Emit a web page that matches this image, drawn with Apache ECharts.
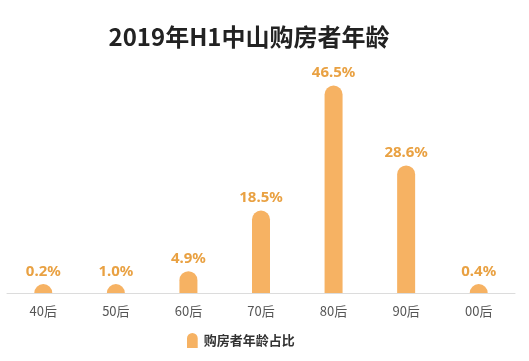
<!DOCTYPE html>
<html><head><meta charset="utf-8">
<script src="https://cdn.jsdelivr.net/npm/echarts@6/dist/echarts.min.js"></script>
<style>html,body{margin:0;padding:0;background:#fff}#c{width:529px;height:361px}</style>
</head><body><div id="c"></div>
<script>
const categories = ['40后','50后','60后','70后','80后','90后','00后'];
const values = [0.2, 1.0, 4.9, 18.5, 46.5, 28.6, 0.4];
const seriesName = '购房者年龄占比';
const titleText = '2019年H1中山购房者年龄';
const chart = echarts.init(document.getElementById('c'));
chart.setOption({
  backgroundColor: '#fff',
  title: {text: titleText, left: 244, top: 20, textAlign: 'center',
    textStyle: {fontSize: 24, fontWeight: 'bold', color: '#222', fontFamily: 'Noto Sans CJK SC'}},
  legend: {data: [seriesName], left: 182, bottom: 8, itemWidth: 13, itemHeight: 15, itemGap: 9,
    icon: 'path://M0,14 L0,5 A5,5 0 0 1 10,5 L10,14 Z',
    textStyle: {fontSize: 13, fontWeight: 'bold', color: '#333', fontFamily: 'Noto Sans CJK SC'}},
  grid: {left: 7, right: 14, top: 70, bottom: 68},
  xAxis: {type: 'category', data: categories,
    axisLine: {lineStyle: {color: '#dcdcdc'}}, axisTick: {show: false},
    axisLabel: {color: '#555', fontSize: 13, margin: 12, fontFamily: 'Noto Sans CJK SC'}},
  yAxis: {type: 'value', min: 0, max: 50, show: false, splitLine: {show: false}},
  series: [{
    name: seriesName, type: 'bar', data: values, barWidth: 18, barMinHeight: 9,
    itemStyle: {color: '#f6b263', borderRadius: [9, 9, 0, 0]},
    label: {show: true, position: 'top', formatter: p => p.value.toFixed(1) + '%',
      color: '#e9a142', fontSize: 15, fontWeight: 'bold', distance: 5, fontFamily: 'Noto Sans'}
  }]
});
</script></body></html>
